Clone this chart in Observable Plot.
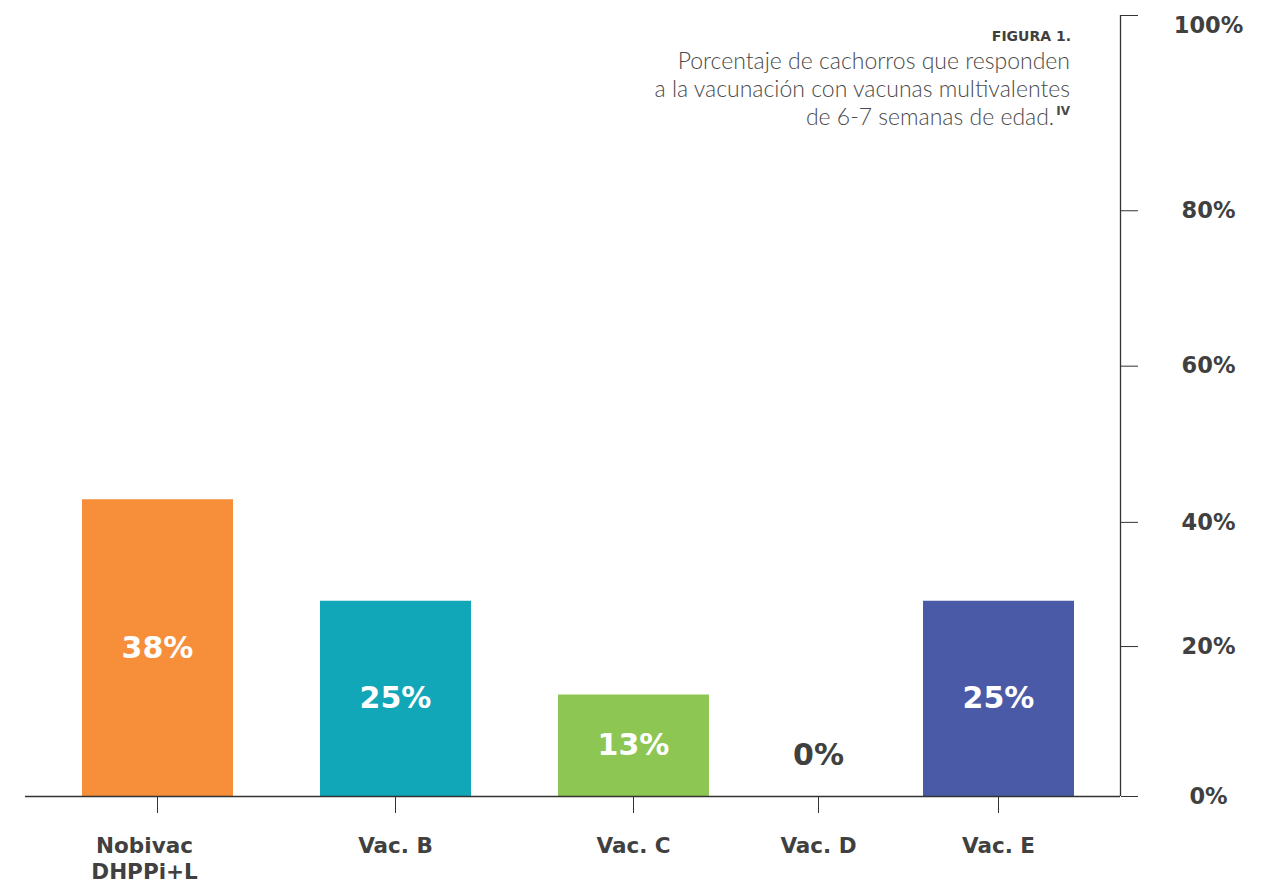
<!DOCTYPE html>
<html>
<head>
<meta charset="utf-8">
<script src="https://cdn.jsdelivr.net/npm/d3@7"></script>
<script src="https://cdn.jsdelivr.net/npm/@observablehq/plot@0.6"></script>
<style>
  html, body { margin: 0; padding: 0; background: #fff; }
  #wrap { position: relative; width: 1271px; height: 881px; font-family: Lato, "Open Sans", sans-serif; }
  #title { position: absolute; right: 200px; top: 26px; text-align: right; color: #4a4a4a; }
  #title .fig { font-family: "DejaVu Sans", sans-serif; font-size: 14px; font-weight: 700; color: #3f3f3f; line-height: 20px; }
  #title .main { font-size: 23px; font-weight: 300; line-height: 28px; margin-right: 1px; }
  #title sup { font-family: "DejaVu Sans", sans-serif; font-size: 12px; font-weight: 700; vertical-align: 10px; line-height: 0; margin-left: 2px; }
  svg text { font-family: "DejaVu Sans", sans-serif; }
</style>
</head>
<body>
<div id="wrap">
  <div id="chart"></div>
  <div id="title">
    <div class="fig">FIGURA 1.</div>
    <div class="main">Porcentaje de cachorros que responden<br>a la vacunación con vacunas multivalentes<br>de 6-7 semanas de edad.<sup>IV</sup></div>
  </div>
</div>
<script>
// Data
const categories = ["Nobivac\nDHPPi+L", "Vac. B", "Vac. C", "Vac. D", "Vac. E"];
const values = [38, 25, 13, 0, 25];
const colors = ["#F68E3A", "#11A6B8", "#8DC652", "#8DC652", "#4B5AA7"];
// y-axis tick labels and where they sit on the value scale (as drawn in the source)
const yTickLabels = ["0%", "20%", "40%", "60%", "80%", "100%"];
const yTickPositions = [0, 19.2, 35.1, 55.1, 75.0, 100];

const data = categories.map((c, i) => ({i, name: c, value: values[i], color: colors[i]}));
const ink = "#404040";
const topTick = yTickPositions[yTickPositions.length - 1];
const yLabel = d => d === topTick ? "" : yTickLabels[yTickPositions.indexOf(d)];
const yAxisOpts = {anchor: "right", tickPadding: 71, textAnchor: "middle", fontSize: 22.5,
  fontWeight: 700, fill: ink, stroke: "#333", label: null};
const xAxisOpts = {tickSize: 17, tickPadding: 22, label: null, tickFormat: i => categories[i],
  fontSize: 21.5, fontWeight: 700, fill: ink, stroke: "#333", lineHeight: 1.17};

const chart = Plot.plot({
  width: 1271,
  height: 881,
  marginTop: 15,
  marginBottom: 85,
  marginLeft: 25,
  marginRight: 151,
  style: {background: "transparent", overflow: "visible"},
  x: {type: "linear", domain: [-1, 0, 1, 2, 3, 4, 5], range: [25, 157, 395, 633, 818, 998, 1120], axis: null},
  y: {domain: [0, 100], axis: null},
  marks: [
    Plot.ruleX(data.filter(d => d.value > 0), {x: "i", y1: 0, y2: "value", stroke: "color", strokeWidth: 151}),
    Plot.ruleY([0], {stroke: "#333", strokeWidth: 1.3}),
    Plot.ruleX([5], {y1: 0, y2: 100, stroke: "#333", strokeWidth: 1.3}),
    Plot.axisX({...xAxisOpts, ticks: [1, 2, 3, 4]}),
    Plot.axisX({...xAxisOpts, ticks: [0], tickSize: 0, tickPadding: 39, dx: -13}),
    Plot.axisX({...xAxisOpts, ticks: [0], tickFormat: () => ""}),
    Plot.axisY({...yAxisOpts, ticks: yTickPositions, tickSize: 17, tickFormat: yLabel}),
    Plot.axisY({...yAxisOpts, ticks: [topTick], tickSize: 0, tickPadding: 88, dy: 10,
      tickFormat: () => yTickLabels[yTickLabels.length - 1]}),
    Plot.text(data, {x: "i", y: d => d.value > 0 ? d.value / 2 : 5.2, text: d => d.value + "%",
      fill: d => d.value > 0 ? "white" : ink, fontSize: 30, fontWeight: 700})
  ]
});
document.getElementById("chart").appendChild(chart);
</script>
</body>
</html>
